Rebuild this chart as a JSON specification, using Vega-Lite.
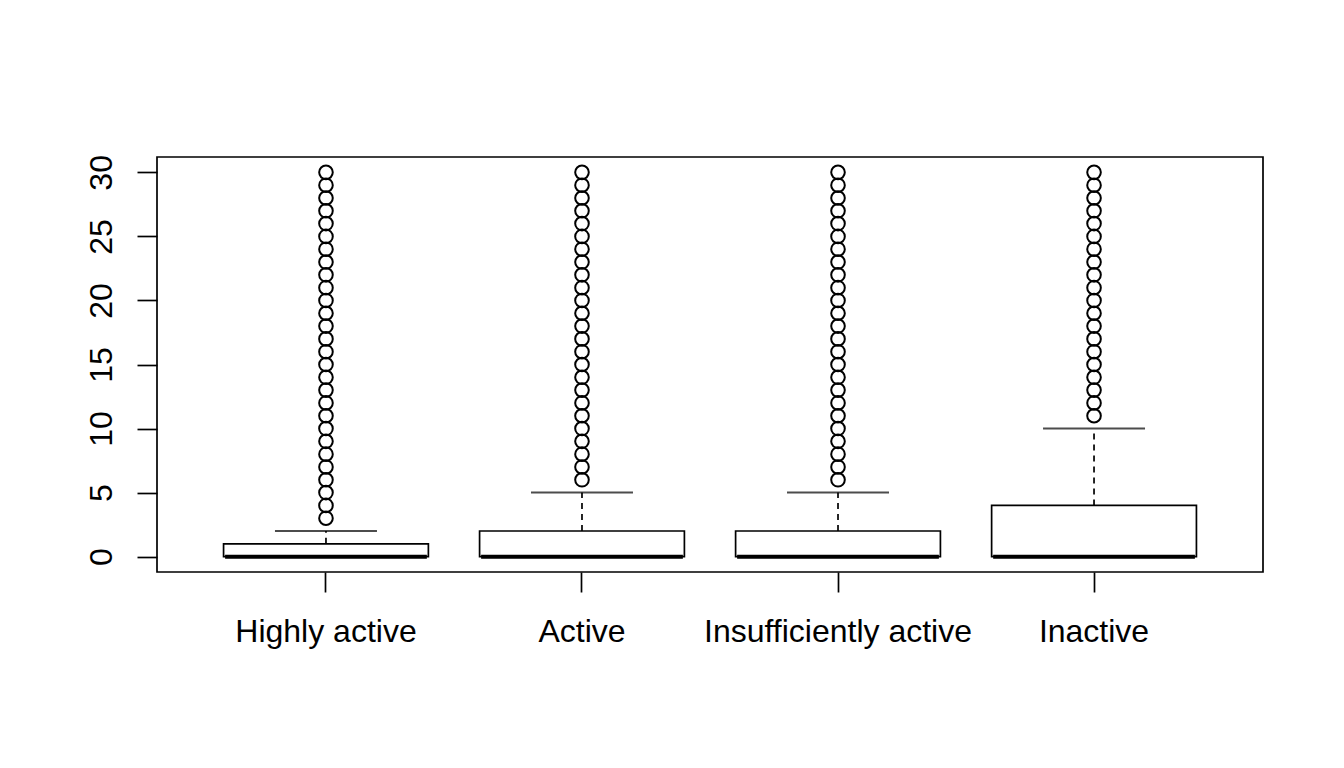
{
  "$schema": "https://vega.github.io/schema/vega-lite/v6.json",
  "width": 1106,
  "height": 415,
  "autosize": {"type": "none"},
  "padding": {"left": 157, "top": 157, "right": 81, "bottom": 196},
  "background": "white",
  "config": {
    "view": {"stroke": "black", "strokeWidth": 1.7},
    "font": "Liberation Sans",
    "axis": {
      "grid": false, "domain": false, "title": null,
      "tickColor": "black", "tickWidth": 1.7, "tickSize": 20,
      "labelColor": "black", "labelFont": "Liberation Sans", "labelFontSize": 32, "labelLimit": 0
    }
  },
  "datasets": {
    "boxes": [
      {"group": "Highly active", "q1": 0, "median": 0, "q3": 1, "upper": 2},
      {"group": "Active", "q1": 0, "median": 0, "q3": 2, "upper": 5},
      {"group": "Insufficiently active", "q1": 0, "median": 0, "q3": 2, "upper": 5},
      {"group": "Inactive", "q1": 0, "median": 0, "q3": 4, "upper": 10}
    ],
    "outliers": [
      {"group": "Highly active", "value": 3}, {"group": "Highly active", "value": 4}, {"group": "Highly active", "value": 5},
      {"group": "Highly active", "value": 6}, {"group": "Highly active", "value": 7}, {"group": "Highly active", "value": 8},
      {"group": "Highly active", "value": 9}, {"group": "Highly active", "value": 10}, {"group": "Highly active", "value": 11},
      {"group": "Highly active", "value": 12}, {"group": "Highly active", "value": 13}, {"group": "Highly active", "value": 14},
      {"group": "Highly active", "value": 15}, {"group": "Highly active", "value": 16}, {"group": "Highly active", "value": 17},
      {"group": "Highly active", "value": 18}, {"group": "Highly active", "value": 19}, {"group": "Highly active", "value": 20},
      {"group": "Highly active", "value": 21}, {"group": "Highly active", "value": 22}, {"group": "Highly active", "value": 23},
      {"group": "Highly active", "value": 24}, {"group": "Highly active", "value": 25}, {"group": "Highly active", "value": 26},
      {"group": "Highly active", "value": 27}, {"group": "Highly active", "value": 28}, {"group": "Highly active", "value": 29},
      {"group": "Highly active", "value": 30},
      {"group": "Active", "value": 6}, {"group": "Active", "value": 7}, {"group": "Active", "value": 8},
      {"group": "Active", "value": 9}, {"group": "Active", "value": 10}, {"group": "Active", "value": 11},
      {"group": "Active", "value": 12}, {"group": "Active", "value": 13}, {"group": "Active", "value": 14},
      {"group": "Active", "value": 15}, {"group": "Active", "value": 16}, {"group": "Active", "value": 17},
      {"group": "Active", "value": 18}, {"group": "Active", "value": 19}, {"group": "Active", "value": 20},
      {"group": "Active", "value": 21}, {"group": "Active", "value": 22}, {"group": "Active", "value": 23},
      {"group": "Active", "value": 24}, {"group": "Active", "value": 25}, {"group": "Active", "value": 26},
      {"group": "Active", "value": 27}, {"group": "Active", "value": 28}, {"group": "Active", "value": 29},
      {"group": "Active", "value": 30},
      {"group": "Insufficiently active", "value": 6}, {"group": "Insufficiently active", "value": 7}, {"group": "Insufficiently active", "value": 8},
      {"group": "Insufficiently active", "value": 9}, {"group": "Insufficiently active", "value": 10}, {"group": "Insufficiently active", "value": 11},
      {"group": "Insufficiently active", "value": 12}, {"group": "Insufficiently active", "value": 13}, {"group": "Insufficiently active", "value": 14},
      {"group": "Insufficiently active", "value": 15}, {"group": "Insufficiently active", "value": 16}, {"group": "Insufficiently active", "value": 17},
      {"group": "Insufficiently active", "value": 18}, {"group": "Insufficiently active", "value": 19}, {"group": "Insufficiently active", "value": 20},
      {"group": "Insufficiently active", "value": 21}, {"group": "Insufficiently active", "value": 22}, {"group": "Insufficiently active", "value": 23},
      {"group": "Insufficiently active", "value": 24}, {"group": "Insufficiently active", "value": 25}, {"group": "Insufficiently active", "value": 26},
      {"group": "Insufficiently active", "value": 27}, {"group": "Insufficiently active", "value": 28}, {"group": "Insufficiently active", "value": 29},
      {"group": "Insufficiently active", "value": 30},
      {"group": "Inactive", "value": 11}, {"group": "Inactive", "value": 12}, {"group": "Inactive", "value": 13},
      {"group": "Inactive", "value": 14}, {"group": "Inactive", "value": 15}, {"group": "Inactive", "value": 16},
      {"group": "Inactive", "value": 17}, {"group": "Inactive", "value": 18}, {"group": "Inactive", "value": 19},
      {"group": "Inactive", "value": 20}, {"group": "Inactive", "value": 21}, {"group": "Inactive", "value": 22},
      {"group": "Inactive", "value": 23}, {"group": "Inactive", "value": 24}, {"group": "Inactive", "value": 25},
      {"group": "Inactive", "value": 26}, {"group": "Inactive", "value": 27}, {"group": "Inactive", "value": 28},
      {"group": "Inactive", "value": 29}, {"group": "Inactive", "value": 30}
    ]
  },
  "encoding": {
    "x": {
      "field": "group", "type": "nominal",
      "sort": ["Highly active", "Active", "Insufficiently active", "Inactive"],
      "scale": {"type": "band", "paddingInner": 0.2, "paddingOuter": 0.26},
      "axis": {"labelAngle": 0, "labelPadding": 24, "labelBaseline": "top"}
    }
  },
  "layer": [
    {
      "data": {"name": "boxes"},
      "mark": {"type": "rule", "color": "black", "strokeWidth": 1.7, "strokeDash": [6, 5]},
      "encoding": {
        "y": {
          "field": "q3", "type": "quantitative",
          "scale": {"domain": [-1.2, 31.2], "nice": false, "zero": false},
          "axis": {"values": [0, 5, 10, 15, 20, 25, 30], "labelAngle": -90, "labelAlign": "center", "labelBaseline": "bottom", "labelPadding": 19}
        },
        "y2": {"field": "upper"}
      }
    },
    {
      "data": {"name": "boxes"},
      "mark": {"type": "tick", "color": "black", "size": 102, "thickness": 2, "orient": "horizontal"},
      "encoding": {"y": {"field": "upper", "type": "quantitative"}}
    },
    {
      "data": {"name": "boxes"},
      "mark": {"type": "bar", "fill": "white", "stroke": "black", "strokeWidth": 1.7},
      "encoding": {
        "y": {"field": "q1", "type": "quantitative"},
        "y2": {"field": "q3"}
      }
    },
    {
      "data": {"name": "boxes"},
      "mark": {"type": "bar", "fill": "black", "stroke": "black", "strokeWidth": 4, "width": {"band": 0.985}},
      "encoding": {
        "y": {"field": "median", "type": "quantitative"},
        "y2": {"field": "median"}
      }
    },
    {
      "data": {"name": "outliers"},
      "mark": {"type": "point", "shape": "circle", "filled": false, "stroke": "black", "strokeWidth": 2, "size": 185, "opacity": 1},
      "encoding": {"y": {"field": "value", "type": "quantitative"}}
    }
  ]
}
